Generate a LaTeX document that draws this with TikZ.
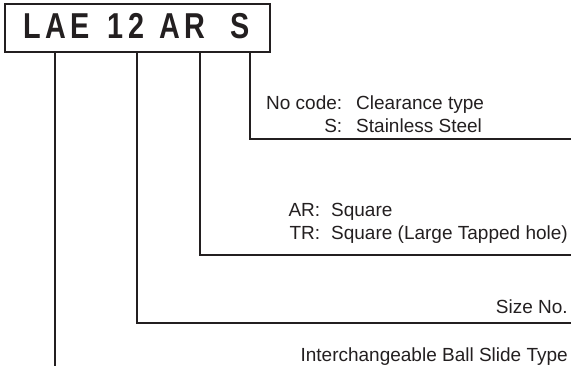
\documentclass[tikz,border=0pt]{standalone}
\usepackage{fontspec}
\setmainfont{Liberation Sans}
\definecolor{ink}{HTML}{231F20}
\begin{document}
\begin{tikzpicture}[x=1pt,y=1pt,
  conn/.style={draw=ink,line width=2pt},
  lbl/.style={inner sep=0pt,text=ink,font=\fontsize{19}{22.5}\selectfont},
  codebox/.style={draw=ink,line width=2pt,inner sep=0pt,minimum width=265pt,minimum height=48pt}]
\useasboundingbox (0,0) rectangle (571,366);
\node[codebox] (box) at (137.5,338) {};
\node[inner sep=0pt,text=ink,anchor=base west,xscale=0.8] (code) at (23,327)
  {\fontsize{36}{36}\selectfont\bfseries L\kern5.6pt A\kern5.6pt E\kern22pt 1\kern7pt 2\kern18pt A\kern5.6pt R\kern31pt S};
% connector points
\coordinate (t1) at (55,314);
\coordinate (t2) at (137,314);
\coordinate (t3) at (200,314);
\coordinate (t4) at (250,314);
\coordinate (e1) at (55,0);
\coordinate (c2) at (137,43);
\coordinate (e2) at (571,43);
\coordinate (c3) at (200,111);
\coordinate (e3) at (571,111);
\coordinate (c4) at (250,227);
\coordinate (e4) at (571,227);
\draw[conn] (t1) -- (e1);
\draw[conn] (t2) -- (c2) -- (e2);
\draw[conn] (t3) -- (c3) -- (e3);
\draw[conn] (t4) -- (c4) -- (e4);
% labels
\node[lbl,anchor=base west] (m) at (266,256)
  {\begin{tabular}[t]{@{}r@{\hspace{14pt}}l@{}}No code: & Clearance type\\ S: & Stainless Steel\end{tabular}};
\node[lbl,anchor=base east] (sh) at (568,149)
  {\begin{tabular}[t]{@{}r@{\hspace{11pt}}l@{}}AR: & Square\\ TR: & Square (Large Tapped hole)\end{tabular}};
\node[lbl,anchor=base east] (sz) at (568,52) {Size No.};
\node[lbl,anchor=base east] (ty) at (568,4) {Interchangeable Ball Slide Type};
\end{tikzpicture}
\end{document}
